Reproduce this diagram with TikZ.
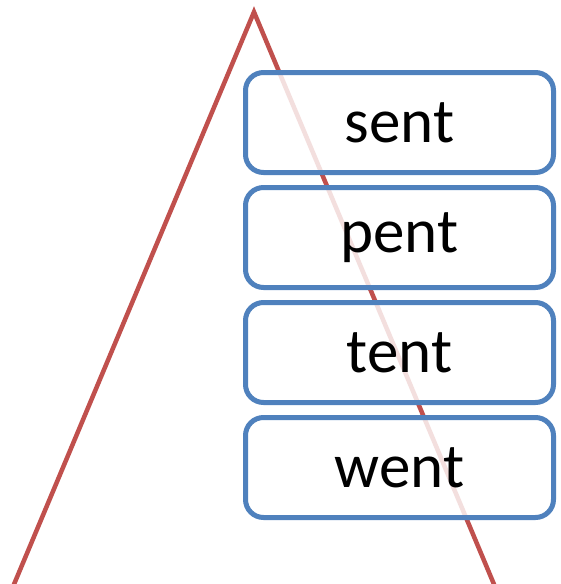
\documentclass[tikz,border=0pt]{standalone}
\usepackage{fontspec}
\setmainfont{Carlito}
\definecolor{boxblue}{RGB}{79,129,189}
\definecolor{trired}{RGB}{192,80,77}
\begin{document}
\begin{tikzpicture}[x=1pt,y=-1pt,
  wordbox/.style={draw=boxblue, line width=5pt, rounded corners=18pt, fill=white, fill opacity=0.82, text opacity=1,
    minimum width=308pt, minimum height=100pt, inner sep=0pt, font=\fontsize{63}{63}\selectfont, anchor=north west}]
\useasboundingbox (0,0) rectangle (560,584);
\clip (0,0) rectangle (560,584);
\coordinate (apex) at (254,12);
\coordinate (leftend) at (-6,632);
\coordinate (rightend) at (514,632);
\draw[trired, line width=4.5pt, line join=miter] (leftend) -- (apex) -- (rightend);
\node[wordbox] (b1) at (243,70) {sent};
\node[wordbox] (b2) at (243,185) {pent};
\node[wordbox] (b3) at (243,300) {tent};
\node[wordbox] (b4) at (243,415) {went};
\end{tikzpicture}
\end{document}
